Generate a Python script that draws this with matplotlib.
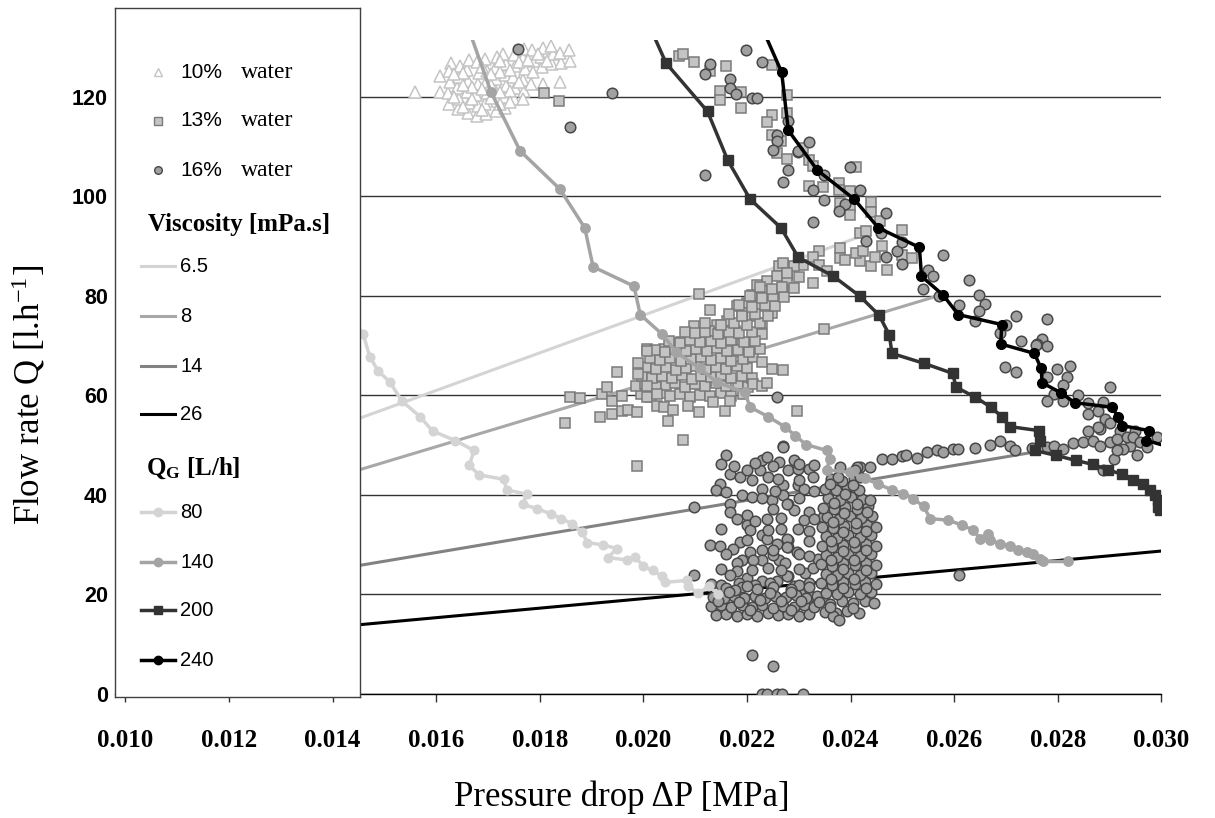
import numpy as np
import matplotlib
matplotlib.use("Agg")
import matplotlib.pyplot as plt

plt.rcParams["font.family"] = ["Liberation Serif", "DejaVu Serif"]
plt.rcParams["mathtext.fontset"] = "custom"
plt.rcParams["mathtext.rm"] = "Liberation Serif"
plt.rcParams["mathtext.bf"] = "Liberation Serif:bold"
plt.rcParams["mathtext.it"] = "Liberation Serif:italic"
SANS = "Liberation Sans"

# ---- viscosity fits (straight lines) ----
visc_labels = ["6.5", "8", "14", "26"]
visc_x = [[0.0140, 0.0243], [0.0140, 0.0257], [0.0140, 0.0275], [0.0140, 0.0300]]
visc_q = [[53.4, 92.3], [43.4, 80.0], [24.9, 48.5], [13.4, 28.7]]

# ---- gas flow series ----
qg80_x = [0.01420, 0.01459, 0.01472, 0.01488, 0.01511, 0.01534, 0.01569, 0.01593, 0.01637,
          0.01673, 0.01664, 0.01683, 0.01731, 0.01736, 0.01775, 0.01767, 0.01795, 0.01821,
          0.01842, 0.01862, 0.01881, 0.01892, 0.01923, 0.01949, 0.01932, 0.01968, 0.01984,
          0.02000, 0.02019, 0.02036, 0.02042, 0.02084, 0.02087, 0.02106, 0.02126, 0.02145]
qg80_q = [78.0, 72.3, 67.7, 64.9, 62.6, 58.8, 55.7, 52.8, 50.9, 48.9, 45.9, 44.0, 43.1, 41.0,
          40.1, 38.1, 37.2, 36.2, 35.2, 34.2, 32.6, 30.4, 29.9, 29.2, 27.4, 26.9, 27.6, 25.6,
          24.8, 23.6, 22.4, 22.8, 21.6, 20.2, 21.6, 20.0]

qg140_x = [0.01665, 0.01706, 0.01762, 0.01839, 0.01887, 0.01903, 0.01982, 0.01994, 0.02037,
           0.02064, 0.02109, 0.02142, 0.02196, 0.02206, 0.02241, 0.02274, 0.02293, 0.02314,
           0.02354, 0.02360, 0.02354, 0.02399, 0.02428, 0.02454, 0.02480, 0.02502, 0.02521,
           0.02541, 0.02554, 0.02589, 0.02615, 0.02637, 0.02650, 0.02666, 0.02669, 0.02689,
           0.02708, 0.02724, 0.02740, 0.02753, 0.02766, 0.02772, 0.02820]
qg140_q = [132.9, 120.9, 109.1, 101.4, 93.6, 85.8, 81.9, 76.2, 72.2, 68.6, 65.4, 62.6, 60.6,
           57.6, 55.7, 53.6, 51.9, 50.1, 48.9, 47.2, 45.0, 44.5, 43.3, 42.1, 41.0, 40.2, 39.2,
           37.7, 35.2, 34.9, 33.9, 32.9, 31.2, 32.2, 30.9, 30.2, 29.7, 29.0, 28.6, 28.1, 27.2,
           26.6, 26.6]

qg200_x = [0.02013, 0.02044, 0.02124, 0.02163, 0.02206, 0.02266, 0.02299, 0.02367, 0.02418,
           0.02455, 0.02475, 0.02480, 0.02542, 0.02597, 0.02604, 0.02641, 0.02671, 0.02692,
           0.02707, 0.02763, 0.02765, 0.02756, 0.02797, 0.02835, 0.02868, 0.02898, 0.02924,
           0.02946, 0.02965, 0.02978, 0.02988, 0.02993, 0.02994, 0.02997]
qg200_q = [133.9, 126.7, 117.0, 107.2, 99.4, 93.6, 87.7, 83.9, 79.9, 76.1, 72.1, 68.4, 66.4,
           64.4, 61.6, 59.6, 57.6, 55.7, 53.7, 52.9, 50.9, 48.9, 47.9, 46.9, 46.1, 45.0, 44.1,
           43.0, 42.1, 41.0, 39.9, 38.9, 37.6, 36.9]

qg240_x = [0.02229, 0.02267, 0.02280, 0.02336, 0.02407, 0.02454, 0.02533, 0.02537, 0.02579,
           0.02608, 0.02692, 0.02690, 0.02755, 0.02768, 0.02770, 0.02806, 0.02833, 0.02904,
           0.02917, 0.02924, 0.02976, 0.02971, 0.03020]
qg240_q = [133.9, 124.9, 113.2, 105.2, 99.4, 93.6, 89.7, 83.9, 80.1, 76.2, 74.2, 70.3, 68.4,
           65.4, 62.5, 60.5, 58.5, 57.6, 55.7, 53.9, 52.9, 50.9, 49.5]

# ---- 10 % water (triangles) ----
water10 = [
    (0.01559, 120.9), (0.01608, 124.1), (0.01628, 126.8), (0.01607, 121.0),
    (0.01625, 118.6), (0.01623, 120.8), (0.01627, 123.0), (0.01624, 125.2),
    (0.01643, 117.4), (0.01645, 119.6), (0.01641, 121.8), (0.01644, 124.0), (0.01646, 126.2),
    (0.01661, 116.6), (0.01663, 118.8), (0.01659, 121.0), (0.01662, 123.2), (0.01660, 125.4), (0.01664, 127.4),
    (0.01679, 116.0), (0.01681, 118.2), (0.01677, 120.4), (0.01680, 122.6), (0.01682, 124.8), (0.01678, 127.0),
    (0.01697, 116.4), (0.01695, 118.6), (0.01699, 120.8), (0.01696, 123.0), (0.01698, 125.2), (0.01694, 127.6),
    (0.01715, 117.0), (0.01717, 119.2), (0.01713, 121.4), (0.01716, 123.6), (0.01714, 125.8), (0.01718, 128.0),
    (0.01733, 117.8), (0.01731, 120.0), (0.01735, 122.2), (0.01732, 124.4), (0.01734, 126.6), (0.01730, 128.6),
    (0.01751, 119.6), (0.01753, 121.8), (0.01749, 124.0), (0.01752, 126.2), (0.01750, 128.4),
    (0.01769, 121.2), (0.01767, 123.4), (0.01771, 125.6), (0.01768, 127.8), (0.01770, 129.6),
    (0.01787, 125.0), (0.01789, 127.2), (0.01786, 129.3),
    (0.01805, 126.0), (0.01803, 128.0), (0.01807, 129.8),
    (0.01823, 126.6), (0.01825, 128.6), (0.01821, 130.2),
    (0.01841, 126.8), (0.01839, 128.8), (0.01858, 127.2), (0.01856, 129.4),
    (0.01784, 122.6), (0.01807, 122.5), (0.01839, 122.9), (0.01768, 119.6),
    (0.01652, 117.9), (0.01688, 117.2), (0.01706, 119.7), (0.01724, 118.5), (0.01742, 121.1),
    (0.01670, 121.9), (0.01706, 122.3), (0.01724, 124.9), (0.01760, 126.9), (0.01796, 128.5),
    (0.01634, 119.9), (0.01652, 122.4), (0.01670, 119.5), (0.01688, 121.5), (0.01706, 124.6),
    (0.01724, 120.9), (0.01742, 125.4), (0.01760, 123.0), (0.01778, 127.4), (0.01814, 127.2),
    (0.01652, 124.8), (0.01688, 125.9), (0.01724, 127.2), (0.01742, 118.9), (0.01634, 124.6),
]

# ---- 13 % water (squares) ----
water13 = [
    # upper scattered
    (0.02068, 128.2), (0.02077, 128.6), (0.02098, 127.0), (0.02129, 125.2), (0.02159, 126.2),
    (0.02148, 121.2), (0.02148, 119.4), (0.02189, 121.0), (0.02189, 117.6), (0.02249, 126.4),
    (0.02249, 116.2), (0.02238, 114.9), (0.02248, 112.2), (0.02258, 108.6), (0.02278, 107.4),
    (0.01809, 120.8), (0.01838, 119.2), (0.02278, 120.4), (0.02278, 116.6), (0.02309, 109.6),
    (0.02319, 107.2), (0.02328, 106.0), (0.02411, 105.9), (0.02265, 111.0),
    # band towards upper right
    (0.02319, 102.1), (0.02347, 101.9), (0.02378, 102.7), (0.02378, 101.2), (0.02399, 101.0),
    (0.02380, 98.6), (0.02399, 97.9), (0.02399, 96.2), (0.02439, 98.9), (0.02439, 96.9),
    (0.02457, 94.9), (0.02500, 93.2), (0.02418, 92.6), (0.02430, 93.0), (0.02460, 89.9),
    (0.02499, 88.2), (0.02518, 87.6), (0.02470, 85.2), (0.02439, 85.9), (0.02418, 86.9),
    (0.02380, 89.6), (0.02380, 87.6), (0.02389, 87.2), (0.02411, 88.6), (0.02425, 88.9),
    (0.02447, 87.7), (0.02340, 89.0), (0.02328, 87.7), (0.02309, 86.2), (0.02290, 86.0),
    (0.02270, 86.2), (0.02340, 86.2), (0.02328, 82.6), (0.02277, 84.2), (0.02277, 82.9),
    (0.02267, 81.2), (0.02349, 73.4), (0.02261, 85.9), (0.02270, 86.6), (0.02258, 83.9),
    (0.02278, 84.6), (0.02238, 82.9), (0.02248, 81.2), (0.02270, 81.2), (0.02219, 82.2),
    (0.02209, 80.2), (0.02229, 79.6), (0.02219, 77.9), (0.02200, 78.6), (0.02229, 74.6),
    (0.02209, 75.9), (0.02190, 76.6), (0.02180, 77.9), (0.02177, 72.9), (0.02161, 74.9),
    (0.02161, 72.9), (0.02142, 74.2), (0.02135, 72.6), (0.02126, 72.9), (0.02097, 73.9),
    (0.02097, 72.2), (0.02113, 71.2), (0.02200, 69.2), (0.02190, 70.2), (0.02229, 72.2),
    (0.02248, 76.6), (0.02264, 80.6), (0.02073, 70.6), (0.02058, 69.6), (0.02007, 69.2),
    (0.02039, 69.2), (0.02129, 77.2), (0.02108, 80.4), (0.02300, 83.8), (0.02355, 84.9),
    # core
    (0.01995, 60.2), (0.02015, 59.7), (0.02035, 60.4), (0.02052, 59.8), (0.02070, 60.3),
    (0.02090, 59.6), (0.02110, 60.1), (0.02128, 59.9), (0.02150, 60.5), (0.02170, 59.8),
    (0.01985, 61.9), (0.02004, 62.3), (0.02024, 61.6), (0.02044, 62.0), (0.02062, 62.5),
    (0.02080, 61.7), (0.02100, 62.2), (0.02120, 61.8), (0.02140, 62.4), (0.02160, 61.9),
    (0.02182, 62.2), (0.02202, 61.6),
    (0.01998, 63.8), (0.02016, 63.4), (0.02036, 63.9), (0.02055, 63.5), (0.02074, 64.0),
    (0.02093, 63.3), (0.02112, 63.8), (0.02131, 63.6), (0.02150, 64.1), (0.02170, 63.4),
    (0.02190, 63.9), (0.02210, 63.5),
    (0.02005, 65.6), (0.02024, 65.2), (0.02044, 65.7), (0.02063, 65.1), (0.02082, 65.5),
    (0.02102, 65.9), (0.02121, 65.3), (0.02140, 65.6), (0.02160, 65.2), (0.02180, 65.8),
    (0.02200, 65.4),
    (0.02012, 67.4), (0.02032, 67.0), (0.02052, 67.5), (0.02072, 66.9), (0.02092, 67.3),
    (0.02111, 67.6), (0.02130, 67.1), (0.02150, 67.4), (0.02170, 66.9), (0.02192, 67.3),
    (0.02212, 67.7),
    (0.02022, 69.1), (0.02042, 68.7), (0.02062, 69.3), (0.02082, 68.8), (0.02102, 69.2),
    (0.02122, 68.9), (0.02142, 69.4), (0.02162, 68.8), (0.02182, 69.1), (0.02204, 68.7),
    (0.02225, 69.3),
    (0.02050, 70.9), (0.02070, 70.5), (0.02090, 71.0), (0.02110, 70.6), (0.02130, 70.9),
    (0.02150, 70.5), (0.02170, 71.0), (0.02195, 70.6), (0.02215, 70.9),
    (0.02080, 72.7), (0.02100, 72.4), (0.02120, 72.8), (0.02145, 72.3), (0.02165, 72.7),
    (0.02185, 72.4), (0.02210, 72.8),
    (0.02120, 74.5), (0.02150, 74.1), (0.02175, 74.6), (0.02200, 74.2), (0.02225, 74.5),
    (0.02165, 76.3), (0.02190, 75.9), (0.02215, 76.4), (0.02240, 76.0),
    (0.02185, 78.1), (0.02210, 77.8), (0.02235, 78.2), (0.02255, 77.9),
    (0.02205, 79.9), (0.02230, 79.6), (0.02250, 80.0), (0.02272, 79.7),
    (0.02225, 81.7), (0.02248, 81.4), (0.02268, 81.8), (0.02290, 81.5),
    # lower left fringe
    (0.01859, 59.6), (0.01878, 59.4), (0.01849, 54.4), (0.01920, 60.2), (0.01929, 61.6),
    (0.01939, 58.9), (0.01958, 59.9), (0.01949, 64.6), (0.01916, 55.7), (0.01939, 56.2),
    (0.01958, 56.9), (0.01971, 57.0), (0.01988, 56.6), (0.02008, 68.9), (0.01989, 66.4),
    (0.01989, 64.2), (0.02007, 61.9), (0.02007, 59.6), (0.02026, 60.3), (0.02026, 57.9),
    (0.02039, 57.7), (0.02058, 57.1), (0.02048, 54.9), (0.02077, 51.0), (0.01988, 45.7),
    (0.02108, 56.6), (0.02087, 57.9), (0.02158, 56.9), (0.02135, 58.6), (0.02167, 58.9),
    (0.02193, 60.2), (0.02212, 62.2), (0.02229, 61.9), (0.02238, 62.4), (0.02248, 65.2),
    (0.02270, 65.0), (0.02229, 66.6), (0.02296, 56.9),
]

# ---- 16 % water (circles) ----
water16_upper = [
    (0.01759, 129.6), (0.01939, 120.8), (0.01858, 113.8), (0.02198, 129.4), (0.02229, 127.0),
    (0.02129, 126.6), (0.02119, 124.6), (0.02167, 123.6), (0.02167, 121.7), (0.02179, 120.6),
    (0.02209, 119.7), (0.02219, 119.7), (0.02119, 104.2), (0.02259, 112.2), (0.02259, 111.0),
    (0.02250, 109.2), (0.02279, 115.0), (0.02279, 105.2), (0.02269, 102.9), (0.02299, 108.9),
    (0.02319, 110.8), (0.02299, 109.0), (0.02348, 104.2), (0.02399, 105.9), (0.02328, 101.2),
    (0.02349, 99.2), (0.02389, 98.4), (0.02418, 101.2), (0.02378, 97.0), (0.02328, 94.7),
    (0.02429, 91.0), (0.02458, 92.6), (0.02468, 96.6), (0.02489, 89.0), (0.02500, 90.8),
    (0.02468, 87.7), (0.02500, 86.4), (0.02579, 88.1), (0.02549, 85.2), (0.02559, 83.9),
    (0.02539, 81.4), (0.02629, 83.2), (0.02649, 80.2), (0.02660, 78.4), (0.02649, 77.0),
    (0.02609, 78.2), (0.02640, 75.0), (0.02719, 75.9), (0.02779, 75.4), (0.02729, 70.8),
    (0.02689, 72.6), (0.02700, 74.2), (0.02769, 71.2), (0.02760, 70.2), (0.02779, 69.9),
    (0.02570, 79.9), (0.02698, 65.6), (0.02719, 64.7), (0.02759, 70.1), (0.02824, 65.9),
    (0.02798, 65.2), (0.02817, 63.6), (0.02811, 62.1), (0.02792, 60.2), (0.02779, 58.8),
    (0.02840, 60.1), (0.02859, 58.4), (0.02859, 56.2), (0.02878, 56.9), (0.02888, 58.6),
    (0.02891, 55.2), (0.02882, 53.2), (0.02859, 52.9), (0.02900, 61.6), (0.02920, 52.9),
    (0.02949, 52.9), (0.02939, 49.9), (0.02991, 51.7), (0.02909, 47.2), (0.02888, 44.9),
    (0.02927, 49.2), (0.02953, 47.9), (0.02914, 48.9), (0.02779, 63.6), (0.02810, 58.9),
    (0.02901, 54.4), (0.02878, 53.6), (0.02609, 23.8),
]
water16_band = [
    (0.02460, 47.2), (0.02480, 47.2), (0.02499, 47.7), (0.02508, 47.9), (0.02528, 47.4),
    (0.02547, 48.6), (0.02566, 48.9), (0.02579, 48.6), (0.02598, 49.2), (0.02608, 49.2),
    (0.02640, 49.4), (0.02669, 50.1), (0.02689, 50.9), (0.02708, 49.7), (0.02718, 48.9),
    (0.02750, 49.4), (0.02779, 49.6), (0.02792, 49.7), (0.02811, 49.2), (0.02830, 50.4),
    (0.02849, 50.6), (0.02869, 50.9), (0.02882, 49.9), (0.02901, 50.7), (0.02914, 51.2),
    (0.02933, 51.6), (0.02946, 51.7), (0.02959, 50.6), (0.02972, 49.6), (0.02418, 45.6),
    (0.02438, 45.6), (0.02412, 45.6), (0.02380, 45.6),
]
water16_cloud = [
    # spread part
    (0.02258, 59.6), (0.02269, 49.7), (0.02159, 48.0), (0.02148, 42.2), (0.02167, 44.2),
    (0.02187, 43.6), (0.02200, 45.0), (0.02209, 42.9), (0.02225, 44.9), (0.02229, 46.9),
    (0.02238, 47.6), (0.02241, 43.6), (0.02261, 46.6), (0.02270, 41.9), (0.02280, 44.9),
    (0.02290, 46.9), (0.02190, 39.9), (0.02167, 38.2), (0.02167, 36.6), (0.02098, 37.6),
    (0.02129, 29.9), (0.02148, 29.7), (0.02200, 35.9), (0.02200, 33.9), (0.02206, 32.9),
    (0.02238, 35.2), (0.02229, 31.9), (0.02238, 31.2), (0.02248, 38.9), (0.02251, 37.2),
    (0.02270, 39.9), (0.02280, 38.2), (0.02290, 36.9), (0.02280, 30.9), (0.02258, 30.2),
    (0.02187, 30.6), (0.02174, 29.2), (0.02206, 28.6), (0.02229, 28.9), (0.02229, 26.9),
    (0.02212, 26.9), (0.02190, 26.9), (0.02180, 26.2), (0.02261, 26.9), (0.02274, 26.2),
    (0.02280, 29.6), (0.02180, 24.6), (0.02167, 23.9), (0.02200, 23.2), (0.02098, 23.9),
    (0.02229, 22.6), (0.02258, 22.6), (0.02280, 23.6),
    (0.02270, 49.6), (0.02299, 45.2), (0.02319, 45.2), (0.02328, 43.6), (0.02299, 41.9),
    (0.02277, 38.2), (0.02319, 36.6), (0.02299, 33.2), (0.02277, 31.2), (0.02277, 29.6),
    (0.02296, 28.6), (0.02312, 24.2), (0.02328, 25.2), (0.02338, 27.2), (0.02277, 23.6),
    (0.02290, 21.6), (0.02302, 20.2), (0.02322, 19.6), (0.02347, 19.2), (0.02347, 35.6),
    (0.02150, 46.1), (0.02175, 45.8), (0.02215, 46.3), (0.02250, 45.7), (0.02300, 46.2),
    (0.02330, 46.0), (0.02140, 41.0), (0.02160, 40.6), (0.02230, 41.2), (0.02255, 40.8),
    (0.02310, 41.1), (0.02330, 40.7), (0.02180, 35.2), (0.02215, 34.8), (0.02265, 35.3),
    (0.02310, 34.9), (0.02330, 35.1), (0.02150, 33.1), (0.02240, 32.9), (0.02265, 33.2),
    (0.02320, 32.8), (0.02160, 28.1), (0.02250, 27.9), (0.02300, 28.2), (0.02320, 27.8),
    (0.02150, 25.1), (0.02210, 24.8), (0.02240, 25.2), (0.02265, 24.9), (0.02300, 25.1),
    (0.02130, 22.1), (0.02150, 21.8), (0.02185, 22.2), (0.02215, 21.9), (0.02245, 22.3),
    (0.02300, 21.9), (0.02320, 22.2), (0.02210, 39.6), (0.02230, 39.3), (0.02300, 39.4),
    (0.02260, 43.1), (0.02300, 42.9), (0.02320, 30.7), (0.02200, 30.9), (0.02250, 28.9),
    # bottom band
    (0.02140, 15.8), (0.02160, 16.1), (0.02180, 15.6), (0.02200, 16.0), (0.02220, 15.7),
    (0.02240, 16.2), (0.02260, 15.8), (0.02280, 16.1), (0.02300, 15.6), (0.02320, 16.0),
    (0.02130, 17.6), (0.02150, 17.9), (0.02170, 17.4), (0.02190, 17.8), (0.02210, 17.5),
    (0.02230, 17.9), (0.02250, 17.3), (0.02270, 17.7), (0.02290, 17.4), (0.02310, 17.8),
    (0.02330, 17.5),
    (0.02135, 19.5), (0.02155, 19.2), (0.02175, 19.7), (0.02195, 19.3), (0.02215, 19.6),
    (0.02235, 19.2), (0.02255, 19.7), (0.02275, 19.4), (0.02295, 19.8), (0.02315, 19.3),
    (0.02335, 19.6),
    (0.02160, 21.2), (0.02190, 21.5), (0.02220, 21.0), (0.02250, 21.4), (0.02285, 21.1),
    (0.02320, 21.5), (0.02177, 20.9), (0.02200, 21.6),
    (0.02145, 18.7), (0.02185, 18.5), (0.02225, 18.8), (0.02265, 18.6), (0.02305, 18.7),
    (0.02165, 20.4), (0.02245, 20.3), (0.02285, 20.5), (0.02205, 16.9), (0.02285, 16.8),
    # dense column
    (0.02350, 16.5), (0.02372, 16.2), (0.02394, 16.7), (0.02416, 16.3), (0.02367, 15.6), (0.02378, 14.8),
    (0.02340, 18.4), (0.02361, 18.1), (0.02383, 18.6), (0.02405, 18.2), (0.02427, 18.7), (0.02445, 18.3),
    (0.02352, 20.3), (0.02374, 20.0), (0.02396, 20.5), (0.02418, 20.1), (0.02440, 20.4),
    (0.02343, 22.2), (0.02364, 21.9), (0.02386, 22.4), (0.02408, 22.0), (0.02428, 22.5), (0.02449, 22.1),
    (0.02352, 24.1), (0.02374, 23.8), (0.02396, 24.3), (0.02418, 23.9), (0.02440, 24.2),
    (0.02343, 26.0), (0.02364, 25.7), (0.02386, 26.2), (0.02408, 25.8), (0.02430, 26.3), (0.02449, 25.9),
    (0.02352, 27.9), (0.02374, 27.6), (0.02396, 28.1), (0.02418, 27.7), (0.02440, 28.2),
    (0.02345, 29.8), (0.02365, 29.5), (0.02386, 30.0), (0.02408, 29.6), (0.02430, 30.1), (0.02450, 29.7),
    (0.02352, 31.7), (0.02374, 31.4), (0.02396, 31.9), (0.02418, 31.5), (0.02440, 32.0),
    (0.02345, 33.6), (0.02366, 33.3), (0.02388, 33.8), (0.02410, 33.4), (0.02432, 33.9), (0.02450, 33.5),
    (0.02355, 35.5), (0.02377, 35.2), (0.02399, 35.7), (0.02421, 35.3), (0.02442, 35.8),
    (0.02346, 37.4), (0.02368, 37.1), (0.02390, 37.6), (0.02412, 37.2), (0.02434, 37.7),
    (0.02357, 39.3), (0.02379, 39.0), (0.02401, 39.5), (0.02423, 39.1), (0.02438, 39.0),
    (0.02350, 41.2), (0.02372, 40.9), (0.02394, 41.4), (0.02416, 41.0), (0.02393, 41.6),
    (0.02362, 43.1), (0.02384, 42.8), (0.02406, 43.3), (0.02418, 43.6), (0.02376, 43.6),
    (0.02409, 44.9),
    (0.02361, 17.4), (0.02405, 17.3), (0.02385, 21.2), (0.02429, 21.3), (0.02363, 23.1),
    (0.02407, 23.0), (0.02385, 25.0), (0.02429, 24.9), (0.02363, 26.9), (0.02407, 26.8),
    (0.02385, 28.8), (0.02429, 28.9), (0.02363, 30.7), (0.02407, 30.6), (0.02385, 32.6),
    (0.02429, 32.7), (0.02366, 34.5), (0.02410, 34.4), (0.02388, 36.4), (0.02432, 36.5),
    (0.02368, 38.3), (0.02412, 38.2), (0.02390, 40.2), (0.02361, 42.1), (0.02405, 42.0),
    # outliers near zero
    (0.02209, 7.9), (0.02250, 5.6), (0.02229, 0.0), (0.02238, 0.0), (0.02258, 0.0),
    (0.02267, 0.0), (0.02309, 0.0),
]

xticks = [0.010, 0.012, 0.014, 0.016, 0.018, 0.020, 0.022, 0.024, 0.026, 0.028, 0.030]
yticks = [0, 20, 40, 60, 80, 100, 120]

W, H = 1215, 818
fig = plt.figure(figsize=(W / 100, H / 100), dpi=100)
ax = fig.add_axes([115 / W, 124.1 / H, 1046.3 / W, 653.6 / H])
ax.set_xlim(0.0098, 0.030)
ax.set_ylim(0, 131.3)

ax.set_yticks(yticks)
ax.yaxis.grid(True, color="#333333", linewidth=1.0)
ax.set_axisbelow(True)
for s in ["top", "right", "left"]:
    ax.spines[s].set_visible(False)
ax.spines["bottom"].set_color("black")
ax.spines["bottom"].set_linewidth(1.0)
ax.set_xticks(xticks)
ax.set_xticklabels([f"{t:.3f}" for t in xticks], fontsize=18, fontweight="bold",
                   family="Liberation Serif")
ax.set_yticklabels([str(t) for t in yticks], fontsize=15.5, fontweight="bold", family=SANS)
ax.tick_params(axis="x", direction="out", length=6, width=1, color="#333333", pad=19)
ax.tick_params(axis="y", length=0, pad=5)

# viscosity lines
visc_colors = ["#d4d4d4", "#a8a8a8", "#828282", "#000000"]
for xs, qs, col in zip(visc_x, visc_q, visc_colors):
    ax.plot(xs, qs, color=col, lw=2.2, zorder=2, solid_capstyle="butt")

# water clouds
t = np.array(water10)
ax.plot(t[:, 0], t[:, 1], ls="none", marker="^", ms=8.2, mfc="white", mec="#c4c4c4",
        mew=1.1, zorder=3)
s = np.array(water13)
ax.plot(s[:, 0], s[:, 1], ls="none", marker="s", ms=7.0, mfc="#c4c4c4", mec="#7a7a7a",
        mew=1.1, zorder=3)
c = np.array(water16_upper + water16_band + water16_cloud)
ax.plot(c[:, 0], c[:, 1], ls="none", marker="o", ms=7.6, mfc="#a0a0a0", mec="#484848",
        mew=1.1, zorder=3.2)

# gas flow series
ax.plot(qg80_x, qg80_q, color="#d4d4d4", lw=2.5, marker="o", ms=6.2, mec="#d4d4d4", zorder=4)
ax.plot(qg140_x, qg140_q, color="#a4a4a4", lw=2.5, marker="o", ms=6.8, mec="#a4a4a4", zorder=4)
ax.plot(qg200_x, qg200_q, color="#333333", lw=2.5, marker="s", ms=6.8, mec="#333333", zorder=4)
ax.plot(qg240_x, qg240_q, color="#000000", lw=2.5, marker="o", ms=7.0, mec="#000000", zorder=4)

# legend box (pixel-like coordinates inside the box)
lg = fig.add_axes([115 / W, (H - 697) / H, 245 / W, 689 / H])
lg.set_xlim(0, 245)
lg.set_ylim(689, 0)
lg.set_xticks([])
lg.set_yticks([])
lg.set_facecolor("white")
for sp in lg.spines.values():
    sp.set_color("#404040")
    sp.set_linewidth(1.0)

water_rows = [("10%", 64, "^", "white", "#c4c4c4"),
              ("13%", 113, "s", "#c4c4c4", "#7a7a7a"),
              ("16%", 162, "o", "#a0a0a0", "#484848")]
for lab, y, m, fc, ec in water_rows:
    lg.plot([43], [y], marker=m, ms=5.5, mfc=fc, mec=ec, mew=1.0, ls="none")
    lg.text(65, y, lab, fontsize=15, family=SANS, va="center", ha="left")
    lg.text(126, y, "water", fontsize=17, family="Liberation Serif", va="center", ha="left")

lg.text(33, 216, "Viscosity [mPa.s]", fontsize=18, fontweight="bold",
        family="Liberation Serif", va="center", ha="left")
for lab, y, col in zip(visc_labels, [258, 308, 358, 406], visc_colors):
    lg.plot([26, 60], [y, y], color=col, lw=2.2)
    lg.text(65, y, lab, fontsize=14.5, family=SANS, va="center", ha="left")

lg.text(31, 460, r"$\mathbf{Q_G}$ [L/h]", fontsize=18, fontweight="bold",
        family="Liberation Serif", va="center", ha="left")
qg_leg = [("80", 504, "#d4d4d4", "o"), ("140", 554, "#a4a4a4", "o"),
          ("200", 602, "#333333", "s"), ("240", 652, "#000000", "o")]
for lab, y, col, m in qg_leg:
    lg.plot([26, 60], [y, y], color=col, lw=2.5)
    lg.plot([43], [y], marker=m, ms=6.0, color=col, ls="none")
    lg.text(65, y, lab, fontsize=14.5, family=SANS, va="center", ha="left")

fig.text(622 / W, 1 - 797 / H, "Pressure drop \u0394P [MPa]", fontsize=25,
         family="Liberation Serif", ha="center", va="center")
fig.text(29 / W, 1 - 395 / H, r"Flow rate Q [l.h$^{\mathregular{-1}}$]", fontsize=25,
         family="Liberation Serif", ha="center", va="center", rotation=90)

fig.savefig("out.png", dpi=100)
